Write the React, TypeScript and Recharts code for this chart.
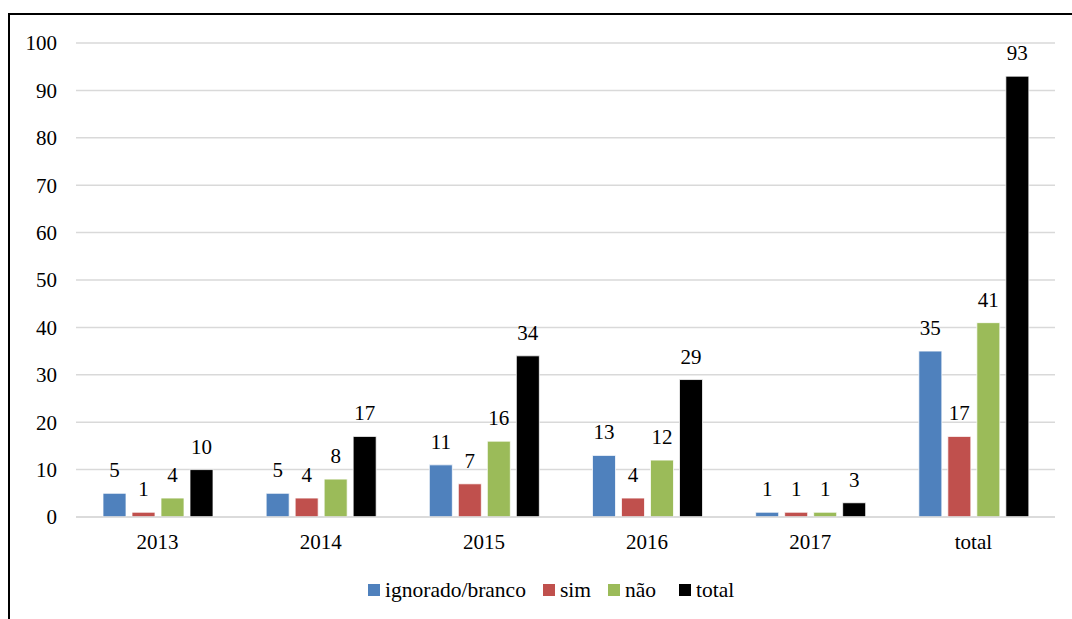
import React from 'react';
import { BarChart, Bar, XAxis, YAxis, CartesianGrid, Legend, LabelList } from 'recharts';

const categories = ['2013', '2014', '2015', '2016', '2017', 'total'];
const ignorado = [5, 5, 11, 13, 1, 35];
const sim = [1, 4, 7, 4, 1, 17];
const nao = [4, 8, 16, 12, 1, 41];
const total = [10, 17, 34, 29, 3, 93];
const yTicks = [0, 10, 20, 30, 40, 50, 60, 70, 80, 90, 100];

const series = [
  { key: 'ignorado', name: 'ignorado/branco', color: '#4F81BD', gap: 17 },
  { key: 'sim', name: 'sim', color: '#C0504D', gap: 17 },
  { key: 'nao', name: 'não', color: '#9BBB59', gap: 23 },
  { key: 'total', name: 'total', color: '#000000', gap: 0 },
];

const data = categories.map((c, i) => ({
  name: c,
  ignorado: ignorado[i],
  sim: sim[i],
  nao: nao[i],
  total: total[i],
}));

const FONT = "'Liberation Serif', 'Times New Roman', serif";

const LegendContent = () => (
  <div style={{ display: 'flex', justifyContent: 'flex-start', paddingLeft: 358, fontFamily: FONT, fontSize: 21.5, color: '#000', lineHeight: '24px' }}>
    {series.map(s => (
      <div key={s.key} style={{ display: 'flex', alignItems: 'center', marginRight: s.gap }}>
        <span style={{ width: 12, height: 12, background: s.color, display: 'inline-block', marginRight: 5 }} />
        <span>{s.name}</span>
      </div>
    ))}
  </div>
);

const renderLabel = (props: any) => {
  const { x, y, width, value } = props;
  return (
    <text x={x + width / 2} y={y - 16} textAnchor="middle" fontFamily={FONT} fontSize={21} fill="#000">
      {value}
    </text>
  );
};

export default function App() {
  return (
    <div style={{ position: 'fixed', left: 8, top: 13, width: 1064, height: 606, borderTop: '2px solid #000', borderLeft: '2px solid #000', background: '#fff', fontFamily: FONT }}>
      <BarChart
        width={1062}
        height={604}
        data={data}
        margin={{ top: 28, right: 17, bottom: 17, left: 0 }}
        barGap={6}
        barSize={23}
      >
        <CartesianGrid vertical={false} stroke="#d9d9d9" strokeWidth={1.5} />
        <XAxis
          dataKey="name"
          height={61}
          tickLine={false}
          axisLine={{ stroke: '#d9d9d9', strokeWidth: 1.5 }}
          tickMargin={11}
          tick={{ fontFamily: FONT, fontSize: 21, fill: '#000' }}
        />
        <YAxis
          width={66}
          domain={[0, 100]}
          ticks={yTicks}
          interval={0}
          tickLine={false}
          axisLine={false}
          tickMargin={13}
          tick={{ fontFamily: FONT, fontSize: 21, fill: '#000' }}
        />
        <Legend verticalAlign="bottom" content={<LegendContent />} />
        {series.map(s => (
          <Bar key={s.key} dataKey={s.key} name={s.name} fill={s.color} stroke="#ffffff" strokeWidth={0.75} isAnimationActive={false}>
            <LabelList dataKey={s.key} content={renderLabel} />
          </Bar>
        ))}
      </BarChart>
    </div>
  );
}
